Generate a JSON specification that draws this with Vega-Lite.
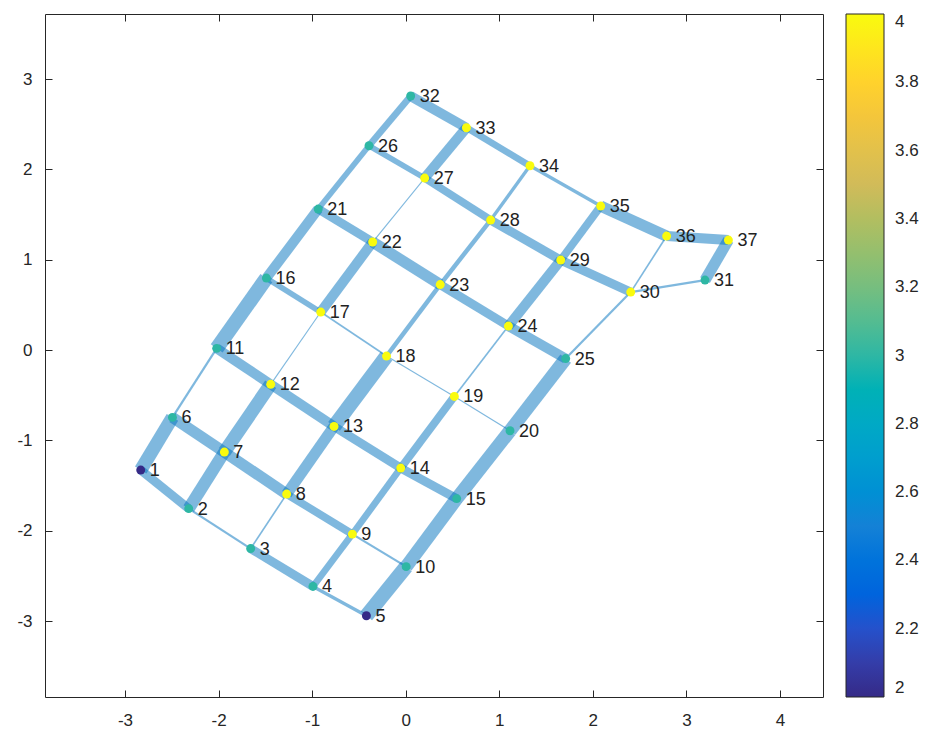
{
  "$schema": "https://vega.github.io/schema/vega-lite/v6.json",
  "width": 778,
  "height": 683,
  "autosize": "none",
  "padding": {"left": 45, "top": 14, "right": 113, "bottom": 46},
  "background": "white",
  "config": {
    "view": {"stroke": "#262626", "strokeWidth": 1},
    "font": "Liberation Sans",
    "axis": {"grid": false, "domain": false, "tickColor": "#262626", "labelColor": "#262626", "labelFontSize": 17, "tickSize": -7, "title": null,
             "labelExpr": "datum.value < 0 ? '-' + abs(datum.value) : '' + datum.value"}
  },
  "datasets": {
    "nodes": [
      {"id": 1, "x": -2.832, "y": -1.328, "c": 2},
      {"id": 2, "x": -2.319, "y": -1.755, "c": 3},
      {"id": 3, "x": -1.657, "y": -2.197, "c": 3},
      {"id": 4, "x": -0.991, "y": -2.616, "c": 3},
      {"id": 5, "x": -0.420, "y": -2.941, "c": 2},
      {"id": 6, "x": -2.493, "y": -0.745, "c": 3},
      {"id": 7, "x": -1.938, "y": -1.129, "c": 4},
      {"id": 8, "x": -1.272, "y": -1.594, "c": 4},
      {"id": 9, "x": -0.570, "y": -2.037, "c": 4},
      {"id": 10, "x": 0.005, "y": -2.397, "c": 3},
      {"id": 11, "x": -2.020, "y": 0.019, "c": 3},
      {"id": 12, "x": -1.443, "y": -0.379, "c": 4},
      {"id": 13, "x": -0.766, "y": -0.845, "c": 4},
      {"id": 14, "x": -0.053, "y": -1.306, "c": 4},
      {"id": 15, "x": 0.545, "y": -1.644, "c": 3},
      {"id": 16, "x": -1.489, "y": 0.797, "c": 3},
      {"id": 17, "x": -0.908, "y": 0.421, "c": 4},
      {"id": 18, "x": -0.205, "y": -0.066, "c": 4},
      {"id": 19, "x": 0.520, "y": -0.513, "c": 4},
      {"id": 20, "x": 1.115, "y": -0.893, "c": 3},
      {"id": 21, "x": -0.935, "y": 1.561, "c": 3},
      {"id": 22, "x": -0.353, "y": 1.196, "c": 4},
      {"id": 23, "x": 0.369, "y": 0.725, "c": 4},
      {"id": 24, "x": 1.098, "y": 0.266, "c": 4},
      {"id": 25, "x": 1.710, "y": -0.094, "c": 3},
      {"id": 26, "x": -0.392, "y": 2.262, "c": 3},
      {"id": 27, "x": 0.203, "y": 1.904, "c": 4},
      {"id": 28, "x": 0.908, "y": 1.439, "c": 4},
      {"id": 29, "x": 1.657, "y": 0.996, "c": 4},
      {"id": 30, "x": 2.405, "y": 0.642, "c": 4},
      {"id": 31, "x": 3.199, "y": 0.775, "c": 3},
      {"id": 32, "x": 0.053, "y": 2.812, "c": 3},
      {"id": 33, "x": 0.649, "y": 2.461, "c": 4},
      {"id": 34, "x": 1.328, "y": 2.040, "c": 4},
      {"id": 35, "x": 2.084, "y": 1.594, "c": 4},
      {"id": 36, "x": 2.789, "y": 1.262, "c": 4},
      {"id": 37, "x": 3.449, "y": 1.218, "c": 4}
    ],
    "edges": [
      {"s": 1, "t": 2, "w": 8}, {"s": 2, "t": 3, "w": 2}, {"s": 3, "t": 4, "w": 8}, {"s": 4, "t": 5, "w": 3},
      {"s": 6, "t": 7, "w": 10}, {"s": 7, "t": 8, "w": 10}, {"s": 8, "t": 9, "w": 7}, {"s": 9, "t": 10, "w": 2},
      {"s": 11, "t": 12, "w": 9}, {"s": 12, "t": 13, "w": 9}, {"s": 13, "t": 14, "w": 8}, {"s": 14, "t": 15, "w": 8},
      {"s": 16, "t": 17, "w": 5}, {"s": 17, "t": 18, "w": 1.5}, {"s": 18, "t": 19, "w": 1}, {"s": 19, "t": 20, "w": 1},
      {"s": 21, "t": 22, "w": 8}, {"s": 22, "t": 23, "w": 10}, {"s": 23, "t": 24, "w": 8}, {"s": 24, "t": 25, "w": 9},
      {"s": 26, "t": 27, "w": 5}, {"s": 27, "t": 28, "w": 7}, {"s": 28, "t": 29, "w": 8}, {"s": 29, "t": 30, "w": 8},
      {"s": 32, "t": 33, "w": 9}, {"s": 33, "t": 34, "w": 6}, {"s": 34, "t": 35, "w": 3}, {"s": 35, "t": 36, "w": 10}, {"s": 36, "t": 37, "w": 9},
      {"s": 1, "t": 6, "w": 12}, {"s": 6, "t": 11, "w": 2}, {"s": 11, "t": 16, "w": 13}, {"s": 16, "t": 21, "w": 9}, {"s": 21, "t": 26, "w": 5}, {"s": 26, "t": 32, "w": 6},
      {"s": 2, "t": 7, "w": 11}, {"s": 7, "t": 12, "w": 12}, {"s": 12, "t": 17, "w": 1}, {"s": 17, "t": 22, "w": 9}, {"s": 22, "t": 27, "w": 1}, {"s": 27, "t": 33, "w": 9},
      {"s": 3, "t": 8, "w": 1.5}, {"s": 8, "t": 13, "w": 10}, {"s": 13, "t": 18, "w": 13}, {"s": 18, "t": 23, "w": 4}, {"s": 23, "t": 28, "w": 4}, {"s": 28, "t": 34, "w": 3},
      {"s": 4, "t": 9, "w": 6}, {"s": 9, "t": 14, "w": 6}, {"s": 14, "t": 19, "w": 7}, {"s": 19, "t": 24, "w": 1.5}, {"s": 24, "t": 29, "w": 9}, {"s": 29, "t": 35, "w": 7},
      {"s": 5, "t": 10, "w": 13}, {"s": 10, "t": 15, "w": 12}, {"s": 15, "t": 20, "w": 12}, {"s": 20, "t": 25, "w": 12}, {"s": 25, "t": 30, "w": 2}, {"s": 30, "t": 36, "w": 1.5},
      {"s": 30, "t": 31, "w": 2}, {"s": 31, "t": 37, "w": 10}
    ]
  },
  "layer": [
    {
      "data": {"name": "edges"},
      "transform": [
        {"lookup": "s", "from": {"data": {"name": "nodes"}, "key": "id", "fields": ["x", "y"]}, "as": ["xa", "ya"]},
        {"lookup": "t", "from": {"data": {"name": "nodes"}, "key": "id", "fields": ["x", "y"]}, "as": ["xb", "yb"]}
      ],
      "mark": {"type": "rule", "color": "#0072BD", "opacity": 0.5, "strokeCap": "butt"},
      "encoding": {
        "x": {"field": "xa", "type": "quantitative", "scale": {"domain": [-3.855, 4.46], "nice": false, "zero": false},
              "axis": {"orient": "top", "values": [-3, -2, -1, 0, 1, 2, 3, 4], "labels": false}},
        "y": {"field": "ya", "type": "quantitative", "scale": {"domain": [-3.84, 3.72], "nice": false, "zero": false},
              "axis": {"orient": "right", "values": [-3, -2, -1, 0, 1, 2, 3], "labels": false}},
        "x2": {"field": "xb"},
        "y2": {"field": "yb"},
        "strokeWidth": {"field": "w", "type": "quantitative", "scale": {"domain": [0, 13], "range": [0, 14.5]}, "legend": null}
      }
    },
    {
      "data": {"name": "nodes"},
      "mark": {"type": "circle", "size": 80, "opacity": 1},
      "encoding": {
        "x": {"field": "x", "type": "quantitative", "axis": {"orient": "bottom", "values": [-3, -2, -1, 0, 1, 2, 3, 4], "labelPadding": 22}},
        "y": {"field": "y", "type": "quantitative", "axis": {"orient": "left", "values": [-3, -2, -1, 0, 1, 2, 3], "labelPadding": 20}},
        "color": {"field": "c", "type": "quantitative",
          "scale": {"domain": [2, 4], "range": ["#352a87", "#0f5cdd", "#1481d6", "#06a4ca", "#2eb7a4", "#87bf77", "#d1bb59", "#fec832", "#f9fb0e"]},
          "legend": {"orient": "none", "legendX": 801, "legendY": 0, "direction": "vertical", "title": null,
            "gradientLength": 683, "gradientThickness": 38, "values": [2, 2.2, 2.4, 2.6, 2.8, 3, 3.2, 3.4, 3.6, 3.8, 4],
            "format": "~g", "labelFontSize": 17, "labelColor": "#262626", "labelOffset": 11, "labelBaseline": "middle",
            "gradientStrokeColor": "#262626", "gradientStrokeWidth": 1}}
      }
    },
    {
      "data": {"name": "nodes"},
      "mark": {"type": "text", "align": "left", "baseline": "middle", "dx": 9, "dy": 1, "fontSize": 18, "color": "#222222"},
      "encoding": {
        "x": {"field": "x", "type": "quantitative", "axis": null},
        "y": {"field": "y", "type": "quantitative", "axis": null},
        "text": {"field": "id", "type": "nominal"}
      }
    }
  ],
  "resolve": {"axis": {"x": "independent", "y": "independent"}}
}
